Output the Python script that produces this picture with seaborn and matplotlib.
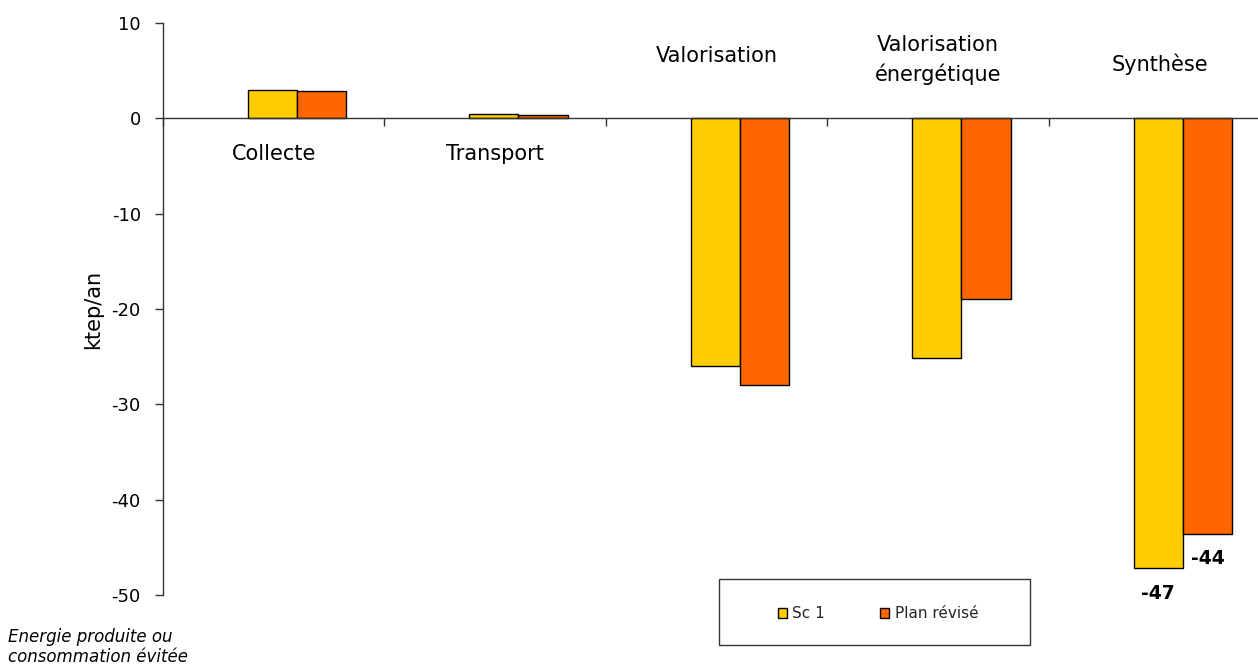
import numpy as np
import pandas as pd
import matplotlib.pyplot as plt
import matplotlib.patches as mpatches
import seaborn as sns

# data (ktep/an)
categories = ["Collecte", "Transport", "Valorisation",
              "Valorisation\nénergétique", "Synthèse"]
series = ["Sc 1", "Plan révisé"]
sc1 = [3.0, 0.5, -26.0, -25.1, -47.2]
plan = [2.9, 0.4, -28.0, -19.0, -43.6]
shown_labels = ["", "", "", "", "-47"], ["", "", "", "", "-44"]

colors = ["#FFCC00", "#FF6600"]

# vertical placement of the category names (data units)
label_y = [-3.7, -3.7, 6.5, 6.1, 5.7]
label_shift = -0.105

df = pd.DataFrame({
    "cat": categories * 2,
    "val": sc1 + plan,
    "serie": [series[0]] * len(categories) + [series[1]] * len(categories),
})

sns.set_theme(style="white")
plt.rcParams["font.family"] = ["DejaVu Sans"]
plt.rcParams["axes.unicode_minus"] = False

fig = plt.figure(figsize=(12.58, 6.69), dpi=100)
ax = fig.add_axes([163 / 1258, 1 - 595 / 669, 1 - 163 / 1258, (595 - 23) / 669])

sns.barplot(data=df, x="cat", y="val", hue="serie", palette=colors,
            width=0.445, saturation=1, edgecolor="black", linewidth=1,
            ax=ax)

ax.set_ylim(-50, 10)
ax.set_xlim(-0.605, 4.339)
ax.set_yticks(np.arange(-50, 11, 10))
ax.tick_params(axis="y", labelsize=13, length=6, width=1, color="#333333",
               direction="out", left=True, pad=10, labelcolor="black")
ax.set_ylabel("ktep/an", fontsize=15, color="black", labelpad=6)
ax.set_xlabel("")

# category axis sits on zero, ticks between categories
ax.spines["bottom"].set_position(("data", 0))
ax.spines["top"].set_visible(False)
ax.spines["right"].set_visible(False)
for s in ["left", "bottom"]:
    ax.spines[s].set_color("#333333")
    ax.spines[s].set_linewidth(1)
ax.set_xticks(range(len(categories)))
ax.set_xticklabels([])
ax.tick_params(axis="x", which="major", length=0)
ax.set_xticks(np.arange(len(categories)) - 0.605, minor=True)
ax.tick_params(axis="x", which="minor", length=6, width=1, color="#333333",
               direction="out", bottom=True)

for i, name in enumerate(categories):
    ax.text(i + label_shift, label_y[i], name, ha="center", va="center",
            fontsize=15, linespacing=1.45, color="black")

for cont, labs in zip(ax.containers, shown_labels):
    ax.bar_label(cont, labels=labs, padding=11, fontsize=13.5,
                 fontweight="bold", color="black")

handles, labels = ax.get_legend_handles_labels()
ax.get_legend().remove()
fig.legend(handles, labels, loc="center", bbox_to_anchor=(878 / 1258, 1 - 614 / 669),
           ncol=2, frameon=False, fontsize=11, handlelength=0.6,
           handleheight=0.6, handletextpad=0.35, columnspacing=3.6)
fig.patches.append(mpatches.Rectangle((719 / 1258, 1 - 645 / 669), 311 / 1258, 66 / 669,
                                      transform=fig.transFigure, fill=False,
                                      edgecolor="#333333", linewidth=1))

fig.text(8 / 1258, 1 - 647 / 669, "Energie produite ou\nconsommation évitée",
         ha="left", va="center", fontsize=12, style="italic",
         linespacing=1.15, color="black")

fig.savefig("out.png", dpi=100)
